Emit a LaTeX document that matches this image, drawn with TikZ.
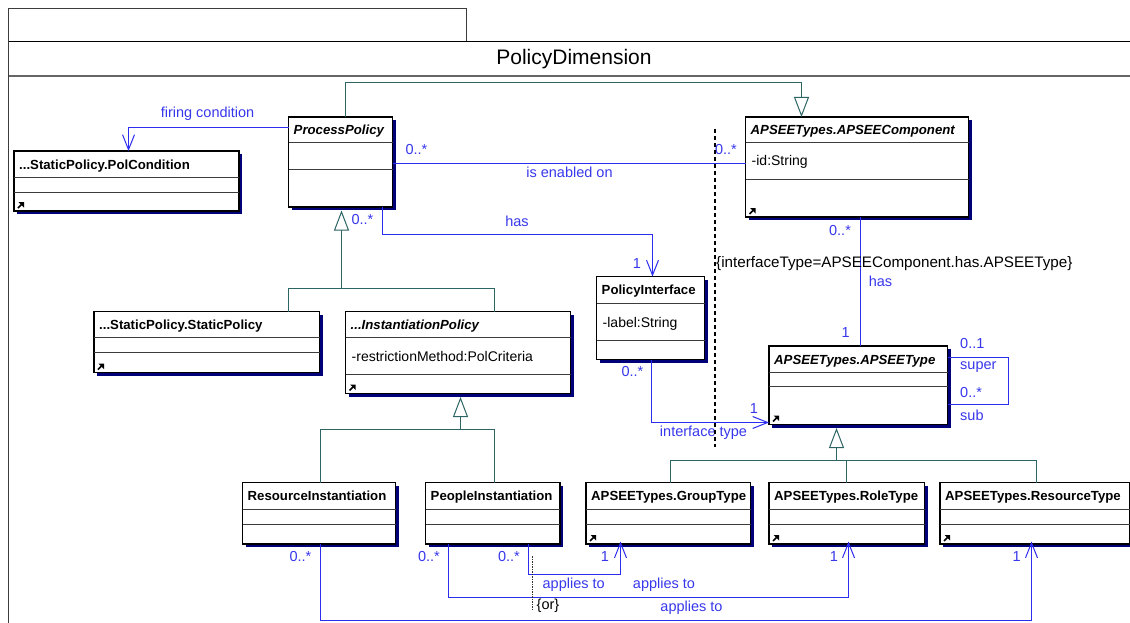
\documentclass[tikz,border=0pt]{standalone}
\usepackage{fontspec}
\setmainfont{Liberation Sans}
\usetikzlibrary{arrows.meta,shadows,calc}

\definecolor{assocblue}{RGB}{45,45,240}
\definecolor{labelblue}{RGB}{55,55,235}
\definecolor{genteal}{RGB}{45,100,100}
\definecolor{shadowblue}{RGB}{0,0,120}
\definecolor{framegray}{RGB}{60,60,60}
\definecolor{sepgray}{RGB}{60,60,60}

\tikzset{
  classbox/.style={draw=black, line width=1.3pt, fill=white, inner sep=0pt,
    outer sep=0pt, anchor=north west,
    general shadow={fill=shadowblue, shadow xshift=3pt, shadow yshift=-3pt}},
  sepline/.style={draw=sepgray, line width=1.1pt},
  titletext/.style={anchor=west, inner sep=0pt, text height=9.5pt, text depth=0pt,
    font=\fontsize{13.2}{15}\selectfont\bfseries},
  attrtext/.style={anchor=west, inner sep=0pt, text height=10pt, text depth=0pt,
    font=\fontsize{14}{16}\selectfont},
  lbl/.style={text=labelblue, inner sep=0pt, font=\fontsize{14.5}{16}\selectfont},
  note/.style={text=black, inner sep=0pt, font=\fontsize{15.2}{17}\selectfont},
  assoc/.style={draw=assocblue, line width=1pt},
  nav/.style={assoc, -{Straight Barb[length=15pt,width=12pt]}},
  genline/.style={draw=genteal, line width=1pt},
  gen/.style={genline, -{Triangle[length=20pt,width=15pt,fill=white]}},
  framepen/.style={draw=framegray, line width=1.2pt}
}

% class box: name, left, top, right, bottom, first and second separator, title, attribute
\newcommand\umlclass[9]{%
  \node[classbox, minimum width={(#4-#2)*1pt}, minimum height={(#5-#3)*1pt}] (#1) at (#2,#3) {};
  \draw[sepline] (#1.west |- 0,#6) -- (#1.east |- 0,#6);
  \draw[sepline] (#1.west |- 0,#7) -- (#1.east |- 0,#7);
  \node[titletext] (#1-title) at ({#2+5},{(#3+#6)/2}) {#8};
  \node[attrtext] (#1-attr) at ({#2+6},{(#6+#7)/2}) {#9};
}
% small navigation mark in the lower left corner of a class box
\newcommand\umlmark[1]{%
  \draw[black, line width=1.6pt] ($(#1.south west)+(4,-3)$) -- ($(#1.south west)+(7.5,-6.5)$);
  \fill[black] ($(#1.south west)+(10,-9)$) -- ($(#1.south west)+(4.5,-9)$)
    -- ($(#1.south west)+(10,-3.5)$) -- cycle;
}

\begin{document}
\begin{tikzpicture}[x=1pt, y=-1pt]
\useasboundingbox (0,0) rectangle (1130,623);

% package frame
\draw[framepen] (8.5,41) -- (8.5,8.5) -- (466.5,8.5) -- (466.5,41);
\draw[draw=black, line width=1.3pt] (8,41.5) -- (1131,41.5);
\draw[draw=black!60, line width=2pt] (8,76.5) -- (1131,76.5);
\draw[framepen] (8.5,41) -- (8.5,624);
\node[inner sep=0pt, font=\fontsize{21}{24}\selectfont] (frametitle) at (574,59.5) {PolicyDimension};

% classes
\umlclass{pc}{14}{151}{239}{211}{177.5}{192.5}{...StaticPolicy.PolCondition}{}
\umlmark{pc}
\umlclass{pp}{288.5}{117}{392.5}{207}{142.5}{169.5}{\itshape ProcessPolicy}{}
\umlclass{ac}{745.5}{117}{968.5}{217}{142.5}{179.5}{\itshape APSEETypes.APSEEComponent}{-id:String}
\umlmark{ac}
\umlclass{sp}{94}{311.5}{319.5}{372.5}{337.5}{352.5}{...StaticPolicy.StaticPolicy}{}
\umlmark{sp}
\umlclass{ip}{345.5}{311.5}{570.5}{393.5}{337.5}{374.5}{\itshape ...InstantiationPolicy}{-restrictionMethod:PolCriteria}
\umlmark{ip}
\umlclass{pi}{596.5}{276.5}{704.5}{359.5}{303.5}{340.5}{PolicyInterface}{-label:String}
\umlclass{at}{769}{346}{947.5}{424.5}{372.5}{386.5}{\itshape APSEETypes.APSEEType}{}
\umlmark{at}
\umlclass{ri}{242.5}{482.5}{395.5}{544}{509.5}{524.5}{ResourceInstantiation}{}
\umlclass{pe}{425.5}{482.5}{560}{544}{509.5}{524.5}{PeopleInstantiation}{}
\umlclass{gt}{586}{482.5}{750.5}{544}{509.5}{524.5}{APSEETypes.GroupType}{}
\umlmark{gt}
\umlclass{rt}{769}{482.5}{924.5}{544}{509.5}{524.5}{APSEETypes.RoleType}{}
\umlmark{rt}
\umlclass{rs}{940}{482.5}{1129.5}{544}{509.5}{524.5}{APSEETypes.ResourceType}{}
\umlmark{rs}

% generalizations
\draw[gen] (pp.north -| 345.5,0) |- (801.5,82.5) -- (ac.north -| 801.5,0);
\coordinate (g1) at (341.5,288.5);
\draw[genline] (sp.north -| 288.5,0) |- (g1) -| (ip.north -| 494.5,0);
\draw[gen, shorten >=3.5pt] (g1) -- (pp.south -| 341.5,0);
\coordinate (g2) at (460.5,429.5);
\draw[genline] (ri.north -| 320.5,0) |- (g2) -| (pe.north -| 494.5,0);
\draw[gen, shorten >=3.5pt] (g2) -- (ip.south -| 460.5,0);
\coordinate (g3) at (836.5,460.5);
\draw[genline] (gt.north -| 670.5,0) |- (g3) -| (rs.north -| 1036.5,0);
\draw[genline] (rt.north -| 846.5,0) -- (g3 -| 846.5,0);
\draw[gen, shorten >=3.5pt] (g3) -- (at.south -| 836.5,0);

% associations
\draw[nav] (pp.west |- 0,127.5) -| (pc.north -| 128.5,0);
\node[lbl] (l-firing) at (207.5,114) {firing condition};

\draw[assoc] (pp.east |- 0,163.5) -- (ac.west |- 0,163.5);
\node[lbl] (l-en1) at (416.5,150) {0..*};
\node[lbl] (l-en2) at (726,150) {0..*};
\node[lbl] (l-en) at (569.5,172.7) {is enabled on};

\draw[nav] (pp.south -| 382.5,0) |- (652.5,234.5) -- (pi.north -| 652.5,0);
\node[lbl] (l-has1) at (362.5,219.5) {0..*};
\node[lbl] (l-has) at (517,221) {has};
\node[lbl] (l-has2) at (637,263.5) {1};

\draw[assoc] (ac.south -| 860.5,0) -- (at.north -| 860.5,0);
\node[lbl] (l-th1) at (840,230.7) {0..*};
\node[lbl] (l-th) at (880.5,281) {has};
\node[lbl] (l-th2) at (845.7,332.3) {1};

\draw[assoc] (at.east |- 0,357.5) -| (1008.5,404.5) -- (at.east |- 0,404.5);
\node[lbl, anchor=west] (l-s1) at (960,344) {0..1};
\node[lbl, anchor=west] (l-s2) at (960,366.7) {super};
\node[lbl, anchor=west] (l-s3) at (960,393) {0..*};
\node[lbl, anchor=west] (l-s4) at (960,415) {sub};

\draw[nav] (pi.south -| 651.5,0) |- (at.west |- 0,422.5);
\node[lbl] (l-it1) at (632.5,371.7) {0..*};
\node[lbl] (l-it2) at (754,408.3) {1};
\node[lbl] (l-it) at (703.5,432.3) {interface type};

\draw[nav, shorten >=-2.5pt] (pe.south -| 528.5,0) |- (620.5,574.5) -- (gt.south -| 620.5,0);
\draw[nav, shorten >=-2.5pt] (pe.south -| 448.5,0) |- (848.5,597.5) -- (rt.south -| 848.5,0);
\draw[nav, shorten >=-2.5pt] (ri.south -| 320.5,0) |- (1031.5,620.5) -- (rs.south -| 1031.5,0);
\node[lbl] (l-a1) at (300.5,556.7) {0..*};
\node[lbl] (l-a2) at (429,556.7) {0..*};
\node[lbl] (l-a3) at (509,556.7) {0..*};
\node[lbl] (l-a4) at (605,556.7) {1};
\node[lbl] (l-a5) at (834,556.7) {1};
\node[lbl] (l-a6) at (1016.7,556.7) {1};
\node[lbl] (l-ap1) at (573.7,584.3) {applies to};
\node[lbl] (l-ap2) at (664,584.3) {applies to};
\node[lbl] (l-ap3) at (691.5,607.3) {applies to};

% constraints
\coordinate (c1) at (714.5,129);
\coordinate (c2) at (714.5,447);
\draw[black, line width=2pt, dash pattern=on 4pt off 3pt] (c1) -- (c2);
\node[note, anchor=west] (c-text) at (716,264) {\{interfaceType=APSEEComponent.has.APSEEType\}};
\coordinate (o1) at (532.5,556);
\coordinate (o2) at (532.5,610);
\draw[black!80, line width=1.6pt, dash pattern=on 1.5pt off 1pt] (o1) -- (o2);
\node[note, anchor=west, font=\fontsize{14.5}{16}\selectfont] (c-or) at (536.5,605.7) {\{or\}};
\end{tikzpicture}
\end{document}
